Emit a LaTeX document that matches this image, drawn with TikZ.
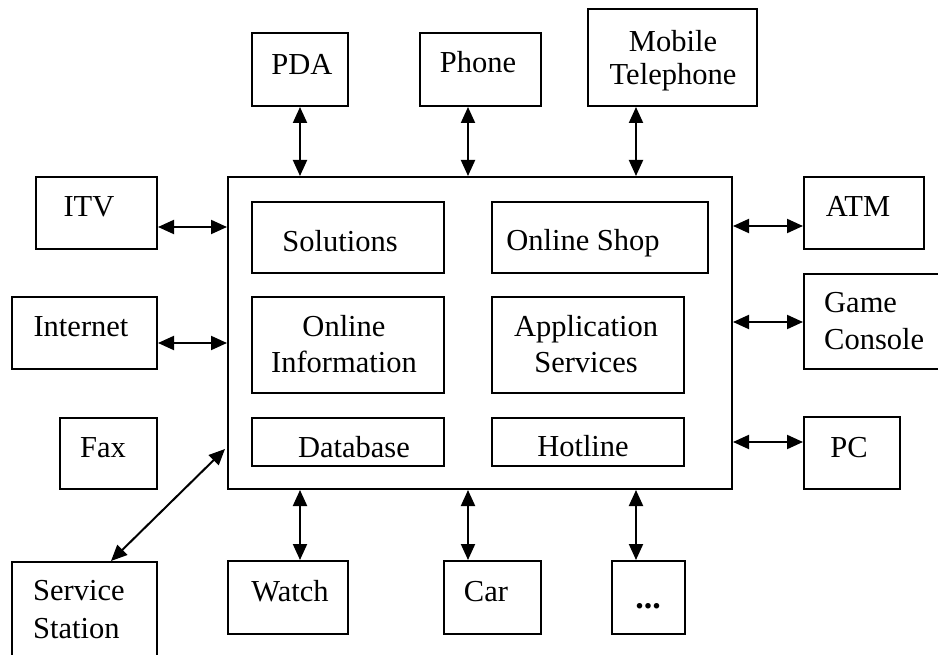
\documentclass[tikz,border=0pt]{standalone}
\usepackage{fontspec}
\setmainfont{Liberation Serif}
\usetikzlibrary{arrows.meta,fit}
\tikzset{
  box/.style={draw, line width=2pt, inner sep=0pt, fit={#1}},
  lbl/.style={font=\fontsize{30.5}{36}\selectfont, inner sep=0pt, anchor=base, align=center},
  lbll/.style={font=\fontsize{30.5}{37}\selectfont, inner sep=0pt, anchor=base west, align=left},
  conn/.style={line width=2pt, {Triangle[length=16pt,width=14pt]}-{Triangle[length=16pt,width=14pt]}}
}
\begin{document}
\begin{tikzpicture}[x=1pt,y=-1pt]
\useasboundingbox (0,0) rectangle (938,655);
% main box
\node[box={(228,177)(732,489)}] (main) {};
% inner boxes
\node[box={(252,202)(444,273)}] (sol) {};
\node[box={(492,202)(708,273)}] (shop) {};
\node[box={(252,297)(444,393)}] (info) {};
\node[box={(492,297)(684,393)}] (app) {};
\node[box={(252,418)(444,466)}] (db) {};
\node[box={(492,418)(684,466)}] (hot) {};
% outer boxes
\node[box={(252,33)(348,106)}] (pda) {};
\node[box={(420,33)(541,106)}] (phone) {};
\node[box={(588,9)(757,106)}] (mob) {};
\node[box={(36,177)(157,249)}] (itv) {};
\node[box={(12,297)(157,369)}] (inet) {};
\node[box={(60,418)(157,489)}] (fax) {};
\node[box={(12,562)(157,660)}] (svc) {};
\node[box={(228,561)(348,634)}] (watch) {};
\node[box={(444,561)(541,634)}] (car) {};
\node[box={(612,561)(685,634)}] (more) {};
\node[box={(804,177)(924,249)}] (atm) {};
\node[box={(804,274)(941,369)}] (game) {};
\node[box={(804,417)(900,489)}] (pc) {};
% labels
\node[lbl] (tsol) at (340,252) {Solutions};
\node[lbl] (tshop) at (583,251) {Online Shop};
\node[lbl] (tinfo) at (344,373) {Online\\Information};
\node[lbl] (tapp) at (586,373) {Application\\Services};
\node[lbl] (tdb) at (354,457) {Database};
\node[lbl] (thot) at (583,456) {Hotline};
\node[lbl] (tpda) at (302,75) {PDA};
\node[lbl] (tphone) at (478,73) {Phone};
\node[lbl, font=\fontsize{30.5}{33}\selectfont] (tmob) at (673,85) {Mobile\\Telephone};
\node[lbl] (titv) at (89,217) {ITV};
\node[lbl] (tinet) at (81,337) {Internet};
\node[lbl] (tfax) at (103,457) {Fax};
\node[lbll, font=\fontsize{30.5}{38}\selectfont] (tsvc) at (33,638) {Service\\Station};
\node[lbl] (twatch) at (290,601) {Watch};
\node[lbl] (tcar) at (486,601) {Car};
\node[lbl, font=\fontsize{34}{36}\selectfont] (tmore) at (648,608) {\textbf{...}};
\node[lbl] (tatm) at (858,217) {ATM};
\node[lbll] (tgame) at (824,349) {Game\\Console};
\node[lbl] (tpc) at (849,457) {PC};
% connectors
\draw[conn] (pda.south) -- (pda.south |- main.north);
\draw[conn] (phone.south -| 468,0) -- (468,0 |- main.north);
\draw[conn] (mob.south -| 636,0) -- (636,0 |- main.north);
\draw[conn] (itv.east |- 0,227) -- (main.west |- 0,227);
\draw[conn] (inet.east |- 0,343) -- (main.west |- 0,343);
\draw[conn] (main.east |- 0,226) -- (atm.west |- 0,226);
\draw[conn] (main.east |- 0,322) -- (game.west |- 0,322);
\draw[conn] (main.east |- 0,442) -- (pc.west |- 0,442);
\draw[conn] (main.south -| 300,0) -- (watch.north -| 300,0);
\draw[conn] (main.south -| 468,0) -- (car.north -| 468,0);
\draw[conn] (main.south -| 636,0) -- (more.north -| 636,0);
\coordinate (svcend) at (svc.north west -| 111,0);
\coordinate (mainend) at (main.west |- 0,449);
\draw[conn] (svcend) -- ([xshift=-2pt]mainend);
\end{tikzpicture}
\end{document}
